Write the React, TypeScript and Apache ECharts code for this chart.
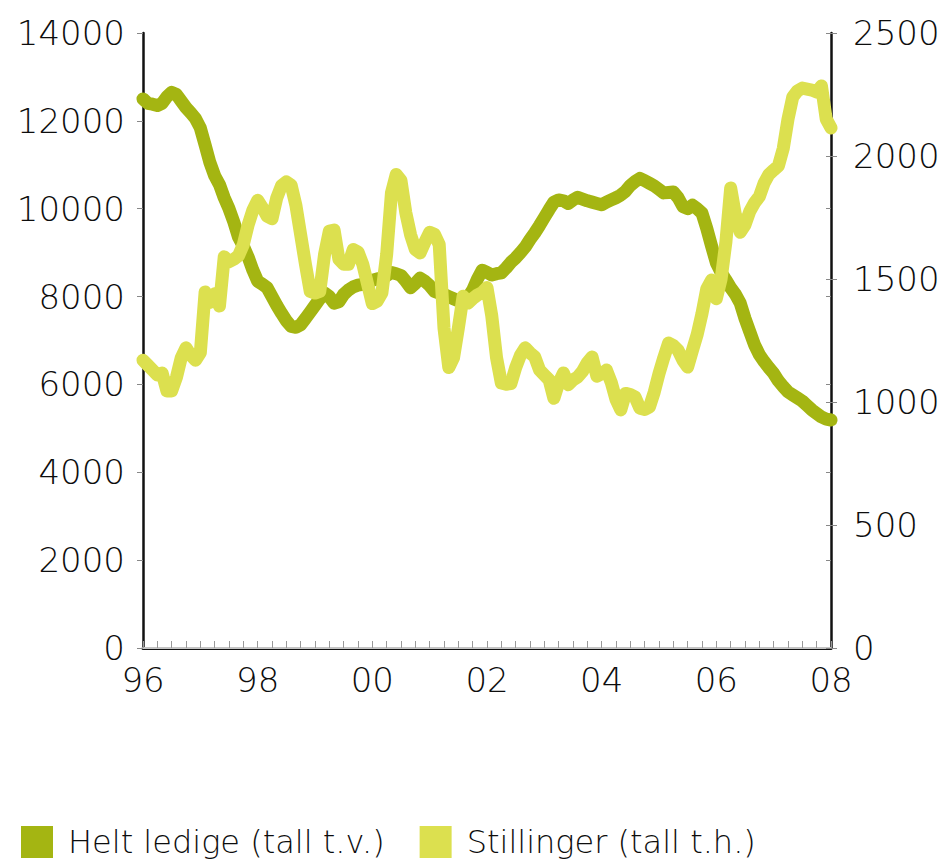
import React, { useEffect, useRef } from "react";
import * as echarts from "echarts";

// Monthly observations, Jan 1996 .. Jan 2008
const years = ["96", "97", "98", "99", "00", "01", "02", "03", "04", "05", "06", "07", "08"];
const months = years.flatMap((y, i) =>
  i === years.length - 1 ? [y + "-01"] : Array.from({ length: 12 }, (_, m) => y + "-" + String(m + 1).padStart(2, "0"))
);

const heltLedige = [
  12500, 12400, 12380, 12350, 12400, 12550, 12650, 12600, 12450, 12300, 12180, 12050,
  11840, 11450, 11050, 10750, 10550, 10250, 10000, 9700, 9350, 9150, 8900, 8600,
  8350, 8280, 8200, 8000, 7800, 7620, 7450, 7320, 7300, 7360, 7500, 7650,
  7800, 7950, 8080, 8000, 7850, 7880, 8050, 8150, 8220, 8260, 8280, 8300,
  8370, 8400, 8420, 8480, 8550, 8520, 8480, 8350, 8200, 8300, 8420, 8350,
  8250, 8120, 8080, 8050, 8000, 7950, 7900, 7920, 7980, 8150, 8400, 8600,
  8550, 8490, 8520, 8540, 8650, 8780, 8880, 9000, 9130, 9300, 9450, 9620,
  9800, 9980, 10150, 10200, 10180, 10120, 10200, 10260, 10220, 10180, 10150, 10120,
  10090, 10150, 10200, 10250, 10310, 10400, 10530, 10620, 10690, 10640, 10580, 10520,
  10440, 10360, 10370, 10380, 10250, 10050, 10000, 10080, 10000, 9900, 9550, 9150,
  8770, 8550, 8380, 8200, 8050, 7850, 7500, 7200, 6900, 6680, 6520, 6380,
  6250, 6080, 5950, 5830, 5760, 5690, 5620, 5520, 5420, 5340, 5260, 5210,
  5190,
];

const stillinger = [
  1170, 1150, 1130, 1110, 1118, 1045, 1045, 1100, 1180, 1220, 1190, 1170,
  1200, 1447, 1405, 1440, 1390, 1590, 1570, 1580, 1595, 1640, 1720, 1780,
  1820, 1790, 1755, 1745, 1830, 1880, 1895, 1882, 1800, 1680, 1560, 1450,
  1443, 1450, 1600, 1695, 1699, 1580, 1560, 1560, 1620, 1610, 1560, 1480,
  1400, 1410, 1443, 1600, 1850, 1925, 1900, 1770, 1680, 1620, 1606, 1650,
  1690, 1682, 1640, 1300, 1140, 1180, 1300, 1430, 1402, 1420, 1435, 1445,
  1465, 1350, 1180, 1077, 1072, 1075, 1140, 1190, 1220, 1200, 1183, 1130,
  1110, 1090, 1015, 1077, 1118, 1070, 1090, 1102, 1125, 1160, 1183, 1105,
  1115, 1130, 1080, 1010, 968, 1035, 1030, 1020, 975, 970, 980, 1040,
  1115, 1180, 1240, 1230, 1210, 1170, 1142, 1210, 1275, 1360, 1460, 1496,
  1420, 1500, 1650, 1870, 1760, 1690, 1720, 1775, 1810, 1835, 1890, 1925,
  1943, 1960, 2030, 2150, 2240, 2265, 2276, 2272, 2268, 2260, 2285, 2150,
  2114,
];

const seriesNames = ["Helt ledige (tall t.v.)", "Stillinger (tall t.h.)"];
const colors = ["#a4b512", "#dce04f"];

export default function App() {
  const ref = useRef<HTMLDivElement>(null);
  useEffect(() => {
    const chart = echarts.init(ref.current!, null, { renderer: "svg" });
    const font = "DejaVu Sans";
    const weight = 200;
    const labelColor = "#0d0d0d";
    const tickStyle = { color: "#888", width: 1 };
    chart.setOption({
      animation: false,
      textStyle: { fontFamily: font, fontWeight: weight },
      grid: { left: 143, right: 117, top: 33, bottom: 213, containLabel: false },
      legend: {
        left: 16,
        top: 821,
        itemWidth: 32,
        itemHeight: 32,
        itemGap: 35,
        icon: "rect",
        textStyle: { fontFamily: font, fontWeight: weight, fontSize: 32, color: labelColor, padding: [0, 0, 0, 10] },
        data: seriesNames,
      },
      xAxis: [
        {
          type: "category",
          data: months,
          boundaryGap: false,
          axisLine: { lineStyle: { color: "#111", width: 3 } },
          axisTick: { show: true, inside: true, length: 7, interval: 2, lineStyle: { color: "#999", width: 1 } },
          axisLabel: {
            interval: 23,
            formatter: (v: string) => v.slice(0, 2),
            fontSize: 34,
            fontWeight: weight,
            color: labelColor,
            margin: 15,
          },
          splitLine: { show: false },
        },
        {
          type: "category",
          data: months,
          position: "top",
          boundaryGap: false,
          axisLine: { lineStyle: { color: "#c4c4c4", width: 2 } },
          axisTick: { show: false },
          axisLabel: { show: false },
        },
      ],
      yAxis: [
        {
          type: "value",
          min: 0,
          max: 14000,
          interval: 2000,
          axisLine: { show: true, lineStyle: { color: "#111", width: 2.5 } },
          axisTick: { show: true, length: 6, lineStyle: tickStyle },
          axisLabel: { fontSize: 34, fontWeight: weight, color: labelColor, margin: 18, formatter: (v: number) => String(v) },
          splitLine: { show: false },
        },
        {
          type: "value",
          min: 0,
          max: 2500,
          interval: 500,
          position: "right",
          axisLine: { show: true, lineStyle: { color: "#111", width: 2.5 } },
          axisTick: { show: true, length: 6, lineStyle: tickStyle },
          axisLabel: { fontSize: 34, fontWeight: weight, color: labelColor, margin: 22, formatter: (v: number) => String(v) },
          splitLine: { show: false },
        },
        {
          type: "value",
          min: 0,
          max: 14000,
          interval: 2000,
          axisLine: { show: false },
          axisTick: { show: true, inside: true, length: 5, lineStyle: tickStyle },
          axisLabel: { show: false },
          splitLine: { show: false },
        },
        {
          type: "value",
          min: 0,
          max: 2500,
          interval: 500,
          position: "right",
          axisLine: { show: false },
          axisTick: { show: true, inside: true, length: 5, lineStyle: tickStyle },
          axisLabel: { show: false },
          splitLine: { show: false },
        },
      ],
      series: [
        {
          name: seriesNames[0],
          type: "line",
          data: heltLedige,
          yAxisIndex: 0,
          showSymbol: false,
          symbol: "none",
          color: colors[0],
          lineStyle: { width: 13, color: colors[0], cap: "round", join: "round" },
          z: 3,
        },
        {
          name: seriesNames[1],
          type: "line",
          data: stillinger,
          yAxisIndex: 1,
          showSymbol: false,
          symbol: "none",
          color: colors[1],
          lineStyle: { width: 13, color: colors[1], cap: "round", join: "round" },
          z: 4,
        },
      ],
    });
    return () => chart.dispose();
  }, []);
  return <div ref={ref} style={{ position: "absolute", left: 0, top: 0, width: 948, height: 861 }} />;
}
